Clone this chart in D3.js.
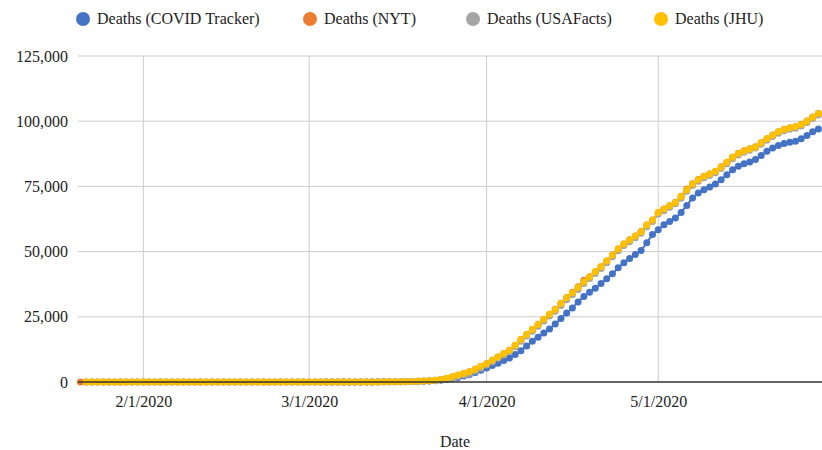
<!DOCTYPE html>
<html>
<head>
<meta charset="utf-8">
<script src="https://cdn.jsdelivr.net/npm/d3@7"></script>
<style>
  body { margin: 0; background: #fff; }
  svg { display: block; }
  svg text { font-family: "Liberation Serif", "DejaVu Serif", "Noto Serif", "Times New Roman", Times, serif; }
</style>
</head>
<body>
<div id="chart"></div>
<script>
// Daily series, first value is 1/21/2020, last is 5/29/2020 (null = no data)
const startDate = '2020-01-21';
const seriesNames = ['Deaths (COVID Tracker)', 'Deaths (NYT)', 'Deaths (USAFacts)', 'Deaths (JHU)'];
const seriesColors = ['#4472C4', '#ED7D31', '#A5A5A5', '#FFC000'];
const yTicks = [0, 25000, 50000, 75000, 100000, 125000];
const xTicks = ['2020-02-01', '2020-03-01', '2020-04-01', '2020-05-01'];

const covidTracker = [
  null, null, null, null, null, null, null, null, null, null, null,
  null, null, null, null, null, null, null, null, null, null, null, null, null, null, null, null, null, null, null, null, null, null, null, null, null, null, null, null, null,
  null, null, null, 10, 11, 12, 15, 18, 20, 24, 30, 35, 40, 48, 55, 70, 90, 115, 160, 220, 290, 390, 520, 700, 950, 1300, 1750, 2300, 2900, 3600, 4500,
  5380, 6300, 7200, 8200, 9220, 10500, 12030, 13820, 15600, 17150, 18820, 20350, 22270, 24320, 26500, 28420, 30720, 32770, 34430, 35970, 37760, 39550, 41470, 43770, 45700, 47360, 48900, 50430, 53380, 56580,
  58340, 60270, 61540, 62840, 65000, 67690, 70530, 72460, 73730, 74770, 75920, 77570, 79500, 81420, 82700, 83730, 84380, 85270, 86810, 88460, 89760, 90650, 91420, 91920, 92300, 93230, 94500, 95920, 97000
];
const nyt = [
  0, 0, 0, 0, 0, 0, 0, 0, 0, 0, 0,
  0, 0, 0, 0, 0, 0, 0, 0, 0, 0, 0, 0, 0, 0, 0, 0, 0, 0, 0, 0, 0, 0, 0, 0, 0, 0, 0, 0, 1,
  1, 6, 9, 11, 12, 14, 19, 22, 26, 30, 38, 41, 49, 57, 66, 88, 112, 150, 205, 265, 345, 490, 690, 980, 1380, 1950, 2600, 3250, 3900, 4850, 5950,
  6950, 8300, 9600, 10900, 12200, 14100, 16300, 18200, 20100, 22100, 24100, 26000, 27900, 30200, 32400, 34400, 36500, 39000, 40400, 42300, 44200, 46400, 48700, 51000, 52900, 54500, 56000, 57700, 60200, 62100,
  65000, 66300, 67600, 68900, 71200, 74000, 76000, 77600, 78900, 79800, 80800, 82500, 84300, 86200, 87600, 88700, 89400, 90200, 91700, 93300, 94700, 96000, 96900, 97500, 97900, 98800, 100100, 101600, 103000
];
const usaFacts = [
  null, 0, 0, 0, 0, 0, 0, 0, 0, 0, 0,
  0, 0, 0, 0, 0, 0, 0, 0, 0, 0, 0, 0, 0, 0, 0, 0, 0, 0, 0, 0, 0, 0, 0, 0, 0, 0, 0, 0, 1,
  1, 6, 9, 11, 12, 15, 19, 22, 26, 30, 38, 42, 50, 57, 68, 87, 110, 145, 190, 245, 320, 450, 620, 850, 1150, 1550, 2100, 2650, 3300, 4200, 5300,
  6500, 7800, 9100, 10400, 11700, 13500, 15600, 17600, 19500, 21400, 23400, 25300, 27100, 29300, 31500, 33500, 35500, 37800, 39700, 41600, 43500, 45700, 48000, 50300, 52300, 53800, 55300, 57000, 59500, 61500,
  64400, 65700, 67000, 68300, 70500, 73100, 75300, 77000, 78300, 79200, 80200, 81900, 83700, 85600, 87000, 88100, 88900, 89700, 91200, 92700, 94100, 95400, 96300, 96900, 97300, 98200, 99500, 101000, 102400
];
const jhu = [
  null, 0, 0, 0, 0, 0, 0, 0, 0, 0, 0,
  0, 0, 0, 0, 0, 0, 0, 0, 0, 0, 0, 0, 0, 0, 0, 0, 0, 0, 0, 0, 0, 0, 0, 0, 0, 0, 0, 0, 1,
  1, 6, 7, 11, 12, 14, 17, 21, 22, 28, 36, 40, 47, 54, 63, 85, 110, 150, 200, 260, 350, 500, 700, 1000, 1400, 2000, 2650, 3300, 3900, 4900, 6000,
  7000, 8330, 9600, 10900, 12170, 14090, 16270, 18190, 20100, 22040, 24080, 26000, 27800, 30100, 32260, 34200, 36200, 38400, 40300, 42240, 44160, 46350, 48650, 50960, 52900, 54400, 55950, 57600, 60170, 62090,
  65000, 66300, 67570, 68850, 71150, 73730, 75920, 77570, 78850, 79760, 80770, 82460, 84230, 86150, 87570, 88610, 89380, 90150, 91690, 93230, 94610, 95920, 96800, 97460, 97840, 98730, 100000, 101540, 102960
];
const seriesValues = [covidTracker, nyt, usaFacts, jhu];

const width = 822, height = 450;
const margin = { top: 56, right: 0, bottom: 68, left: 78 };
const parse = d3.timeParse('%Y-%m-%d');
const t0 = parse(startDate);
const dates = jhu.map((_, i) => d3.timeDay.offset(t0, i));
const lastDate = dates[dates.length - 1];

const svg = d3.select('#chart').append('svg')
  .attr('width', width)
  .attr('height', height);

const x = d3.scaleTime()
  .domain([new Date(+t0 - 0.42 * 864e5), new Date(+lastDate + 0.63 * 864e5)])
  .range([margin.left, width - margin.right]);
const y = d3.scaleLinear()
  .domain([0, 125000])
  .range([height - margin.bottom, margin.top]);

// gridlines
svg.append('g')
  .selectAll('line.h')
  .data(yTicks.filter(d => d > 0))
  .join('line')
  .attr('x1', margin.left).attr('x2', width - margin.right)
  .attr('y1', d => y(d)).attr('y2', d => y(d))
  .attr('stroke', '#cccccc').attr('stroke-width', 1);
svg.append('g')
  .selectAll('line.v')
  .data(xTicks.map(parse))
  .join('line')
  .attr('x1', d => x(d)).attr('x2', d => x(d))
  .attr('y1', margin.top).attr('y2', y(0))
  .attr('stroke', '#cccccc').attr('stroke-width', 1);

// y axis labels
svg.append('g')
  .attr('transform', `translate(${margin.left - 10},0)`)
  .call(d3.axisLeft(y).tickValues(yTicks).tickSize(0).tickPadding(0).tickFormat(d3.format(',')))
  .call(g => g.select('.domain').remove())
  .call(g => g.attr('font-family', null))
  .selectAll('text')
  .attr('font-size', 16)
  .attr('fill', '#222');

// x axis labels
svg.append('g')
  .attr('transform', `translate(0,${y(0)})`)
  .call(d3.axisBottom(x).tickValues(xTicks.map(parse)).tickSize(0).tickPadding(14).tickFormat(d3.timeFormat('%-m/%-d/%Y')))
  .call(g => g.select('.domain').remove())
  .call(g => g.attr('font-family', null))
  .selectAll('text')
  .attr('font-size', 16)
  .attr('fill', '#222');

// series
const line = d3.line()
  .defined(d => d.v != null)
  .x(d => x(d.date))
  .y(d => y(d.v));

seriesValues.forEach((vals, i) => {
  const pts = vals.map((v, j) => ({ date: dates[j], v }));
  svg.append('path')
    .datum(pts)
    .attr('d', line)
    .attr('fill', 'none')
    .attr('stroke', seriesColors[i])
    .attr('stroke-width', 2);
  svg.append('g')
    .selectAll('circle')
    .data(pts.filter(d => d.v != null))
    .join('circle')
    .attr('cx', d => x(d.date))
    .attr('cy', d => y(d.v))
    .attr('r', 3.5)
    .attr('fill', seriesColors[i]);
});

// baseline
svg.append('line')
  .attr('x1', margin.left).attr('x2', width - margin.right)
  .attr('y1', y(0)).attr('y2', y(0))
  .attr('stroke', '#333').attr('stroke-width', 1.5);

// x axis title
svg.append('text')
  .attr('x', 455)
  .attr('y', 447)
  .attr('text-anchor', 'middle')
  .attr('font-size', 16)
  .attr('fill', '#222')
  .text('Date');

// legend
const legendX = [83, 310, 473, 661];
const legend = svg.append('g');
seriesNames.forEach((name, i) => {
  legend.append('circle')
    .attr('cx', legendX[i]).attr('cy', 19).attr('r', 7)
    .attr('fill', seriesColors[i]);
  legend.append('text')
    .attr('x', legendX[i] + 14).attr('y', 24)
    .attr('font-size', 16)
    .attr('fill', '#222')
    .text(name);
});
</script>
</body>
</html>
